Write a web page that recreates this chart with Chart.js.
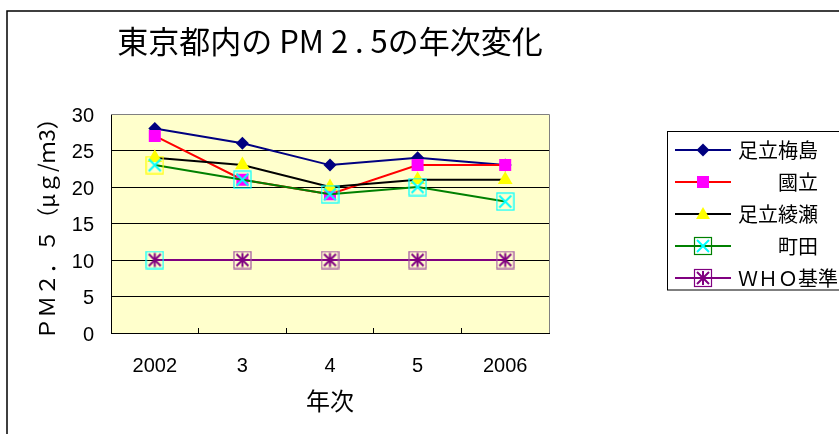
<!DOCTYPE html>
<html>
<head>
<meta charset="utf-8">
<script src="https://cdn.jsdelivr.net/npm/chart.js@4.4.1/dist/chart.umd.min.js"></script>
<style>
  html, body { margin: 0; padding: 0; background: #fff; overflow: hidden; width: 839px; height: 434px; }
  #wrap { position: absolute; left: 0; top: 0; width: 900px; height: 470px; }
</style>
</head>
<body>
<div id="wrap"><canvas id="c" width="900" height="470"></canvas></div>
<script>
// Annual mean PM2.5 at Tokyo monitoring stations (μg/m3)
const years = ['2002', '3', '4', '5', '2006'];
const seriesNames = ['足立梅島', '　　國立', '足立綾瀬', '　　町田', 'ＷＨＯ基準'];
const adachiUmejima = [28, 26, 23, 24, 23];
const kunitachi     = [27, 21, 19, 23, 23];
const adachiAyase   = [24, 23, 20, 21, 21];
const machida       = [23, 21, 19, 20, 18];
const whoStandard   = [10, 10, 10, 10, 10];
const yTickValues   = [0, 5, 10, 15, 20, 25, 30];

const titleText = '東京都内の PM 2 . 5の年次変化';
const yTitleText = 'ＰＭ２．５（μｇ/ｍ3）';
const xTitleText = '年次';

const CJK = '"Noto Sans CJK JP", "Noto Sans", sans-serif';
const LAT = '"Liberation Sans", Arial, sans-serif';

// ---- marker glyphs drawn on small canvases ----
function makeCanvas(w, h, paint) {
  const c = document.createElement('canvas');
  c.width = w; c.height = h;
  paint(c.getContext('2d'), w / 2, h / 2);
  return c;
}
function paintCrossBox(g, cx, cy, boxColor, crossColor) {
  g.strokeStyle = boxColor; g.lineWidth = 1.2;
  g.strokeRect(cx - 8.5, cy - 8.5, 17, 17);
  g.strokeStyle = crossColor; g.lineWidth = 2; g.lineCap = 'butt';
  g.beginPath();
  g.moveTo(cx - 6, cy - 6); g.lineTo(cx + 6, cy + 6);
  g.moveTo(cx + 6, cy - 6); g.lineTo(cx - 6, cy + 6);
  g.stroke();
}
function paintStarBox(g, cx, cy, boxColor, starColor) {
  g.strokeStyle = boxColor; g.lineWidth = 1.2;
  g.strokeRect(cx - 8.5, cy - 8.5, 17, 17);
  g.strokeStyle = starColor; g.lineWidth = 2;
  g.beginPath();
  g.moveTo(cx - 6, cy - 6); g.lineTo(cx + 6, cy + 6);
  g.moveTo(cx + 6, cy - 6); g.lineTo(cx - 6, cy + 6);
  g.moveTo(cx, cy - 7); g.lineTo(cx, cy + 7);
  g.stroke();
}
function paintDiamond(g, cx, cy, r, color) {
  g.fillStyle = color;
  g.beginPath();
  g.moveTo(cx, cy - r); g.lineTo(cx + r, cy); g.lineTo(cx, cy + r); g.lineTo(cx - r, cy);
  g.closePath(); g.fill();
}
function paintTriangle(g, cx, cy, r, color) {
  g.fillStyle = color;
  g.beginPath();
  g.moveTo(cx, cy - r); g.lineTo(cx + r * 0.87, cy + r * 0.5); g.lineTo(cx - r * 0.87, cy + r * 0.5);
  g.closePath(); g.fill();
}

const crossBox = (box) => makeCanvas(19, 19, (g, cx, cy) => paintCrossBox(g, cx, cy, box, '#00FFFF'));
const starBox  = (box) => makeCanvas(19, 19, (g, cx, cy) => paintStarBox(g, cx, cy, box, '#800080'));
const machidaMarkers = [crossBox('#FFFF00'), crossBox('#00FFFF'), crossBox('#00FFFF'), crossBox('#00FFFF'), crossBox('#00FFFF')];
const whoMarkers = [starBox('#00FFFF'), starBox('#A050A0'), starBox('#A050A0'), starBox('#A050A0'), starBox('#A050A0')];

// legend samples: line with marker in the middle
function legendIcon(lineColor, paintMarker) {
  return makeCanvas(56, 20, (g, cx, cy) => {
    g.fillStyle = lineColor;
    g.fillRect(0, cy - 1, 56, 2);
    paintMarker(g, cx, cy);
  });
}
const legendIcons = [
  legendIcon('#000080', (g, cx, cy) => paintDiamond(g, cx, cy, 6.5, '#000080')),
  legendIcon('#FF0000', (g, cx, cy) => { g.fillStyle = '#FF00FF'; g.fillRect(cx - 6, cy - 6, 12, 12); }),
  legendIcon('#000000', (g, cx, cy) => paintTriangle(g, cx, cy + 1, 8, '#FFFF00')),
  legendIcon('#008000', (g, cx, cy) => paintCrossBox(g, cx, cy, '#008000', '#00FFFF')),
  legendIcon('#800080', (g, cx, cy) => paintStarBox(g, cx, cy, '#800080', '#800080'))
];

// ---- decoration plugin: outer frame, plot background, plot border, legend box ----
const decor = {
  id: 'decor',
  afterLayout(chart) {
    const lg = chart.legend;
    if (!lg) return;
    const w = lg.width, h = lg.height;
    lg.left = 666; lg.top = 128; lg.right = 666 + w; lg.bottom = 128 + h;
  },
  beforeDraw(chart) {
    const { ctx, chartArea: a } = chart;
    ctx.save();
    ctx.fillStyle = '#FFFFCC';
    ctx.fillRect(a.left, a.top, a.right - a.left, a.bottom - a.top);
    ctx.strokeStyle = '#000'; ctx.lineWidth = 1.5;
    ctx.strokeRect(7, 11, 1000, 1000);
    ctx.restore();
  },
  beforeDatasetsDraw(chart) {
    const { ctx, chartArea: a } = chart;
    ctx.save();
    ctx.strokeStyle = '#808080'; ctx.lineWidth = 1;
    ctx.beginPath();
    ctx.moveTo(Math.round(a.left), Math.round(a.top) + 0.5);
    ctx.lineTo(Math.round(a.right) + 0.5, Math.round(a.top) + 0.5);
    ctx.lineTo(Math.round(a.right) + 0.5, Math.round(a.bottom));
    ctx.stroke();
    ctx.restore();
  },
  afterDraw(chart) {
    const ctx = chart.ctx;
    ctx.save();
    ctx.strokeStyle = '#000'; ctx.lineWidth = 1;
    ctx.strokeRect(667.5, 131.5, 300, 158.5);
    ctx.restore();
  }
};

function series(label, data, line, extra, order) {
  return Object.assign({
    label, data,
    borderColor: line, borderWidth: 2,
    tension: 0, fill: false, order
  }, extra);
}

const datasets = [
  series(seriesNames[0], adachiUmejima, '#000080',
    { pointStyle: 'rectRot', pointRadius: 6.5, pointBackgroundColor: '#000080', pointBorderColor: '#000080', pointBorderWidth: 0 }, 5),
  series(seriesNames[1], kunitachi, '#FF0000',
    { pointStyle: 'rect', pointRadius: 8.5, pointBackgroundColor: '#FF00FF', pointBorderColor: '#FF00FF', pointBorderWidth: 0 }, 4),
  series(seriesNames[2], adachiAyase, '#000000',
    { pointStyle: 'triangle', pointRadius: 8.5, pointBackgroundColor: '#FFFF00', pointBorderColor: '#FFFF00', pointBorderWidth: 0 }, 3),
  series(seriesNames[3], machida, '#008000',
    { pointStyle: machidaMarkers, pointRadius: 9 }, 2),
  series(seriesNames[4], whoStandard, '#800080',
    { pointStyle: whoMarkers, pointRadius: 9 }, 1)
];

new Chart(document.getElementById('c'), {
  type: 'line',
  data: { labels: years, datasets },
  options: {
    responsive: false,
    animation: false,
    devicePixelRatio: 1,
    layout: { padding: { left: 0, top: 0, right: 351, bottom: 0 } },
    plugins: {
      title: {
        display: true, text: titleText, fullSize: false, align: 'center', color: '#000',
        font: { family: CJK, size: 31, weight: 'normal', lineHeight: 1.2 },
        padding: { top: 23, bottom: 53.8 }
      },
      legend: {
        position: 'chartArea', align: 'start',
        labels: {
          usePointStyle: true, pointStyleWidth: 50, boxHeight: 20,
          padding: 12, color: '#000',
          font: { family: CJK, size: 20, lineHeight: 1 },
          sort: (a, b) => a.datasetIndex - b.datasetIndex,
          generateLabels: (chart) => chart.data.datasets.map((ds, i) => ({
            text: ds.label, pointStyle: legendIcons[i], datasetIndex: i, hidden: false,
            lineWidth: 0, fillStyle: 'rgba(0,0,0,0)', strokeStyle: 'rgba(0,0,0,0)', fontColor: '#000'
          }))
        }
      },
      tooltip: { enabled: false }
    },
    scales: {
      x: {
        offset: true,
        grid: { offset: true, drawOnChartArea: false, drawTicks: true, tickLength: -5, color: '#000' },
        border: { color: '#000', width: 1 },
        ticks: { font: { family: LAT, size: 20 }, color: '#000', padding: 26, maxRotation: 0, autoSkip: false },
        title: { display: true, text: xTitleText, color: '#000', font: { family: CJK, size: 24, lineHeight: 1.2 }, padding: { top: 0, bottom: 54.6 } },
        afterFit: (s) => { s.height = 137; }
      },
      y: {
        min: yTickValues[0], max: yTickValues[yTickValues.length - 1],
        afterBuildTicks: (s) => { s.ticks = yTickValues.map(v => ({ value: v })); },
        grid: { color: (c) => (c.tick && c.tick.value === 30) ? 'rgba(0,0,0,0)' : '#000', drawTicks: false, lineWidth: 1 },
        border: { color: '#000', width: 1 },
        ticks: { font: { family: LAT, size: 20 }, color: '#000', padding: 17, labelOffset: 2 },
        title: { display: true, text: yTitleText, color: '#000', font: { family: CJK, size: 22, lineHeight: 1.2 }, padding: { top: 33.8, bottom: 0 } },
        afterFit: (s) => { s.width = 111; }
      }
    }
  },
  plugins: [decor]
});
</script>
</body>
</html>
